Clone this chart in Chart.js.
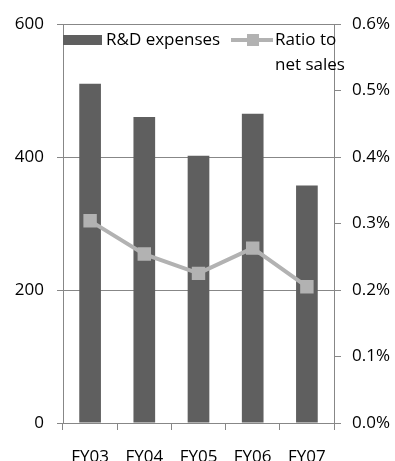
<!DOCTYPE html>
<html>
<head>
<meta charset="utf-8">
<script src="https://cdn.jsdelivr.net/npm/chart.js@4.4.0/dist/chart.umd.min.js"></script>
<style>
  html, body { margin: 0; padding: 0; background: #fff; overflow: hidden; }
  #wrap { position: relative; width: 395px; height: 480px; }
</style>
</head>
<body>
<div id="wrap"><canvas id="c" width="395" height="480"></canvas></div>
<script>
// Fiscal years and the two series
const categories = ['FY03', 'FY04', 'FY05', 'FY06', 'FY07'];
const rdExpenses = [510, 460, 402, 465, 357];          // left axis
const ratioToSales = [0.304, 0.254, 0.225, 0.263, 0.205]; // right axis, in %
const seriesLabels = ['R&D expenses', 'Ratio to net sales'];
const leftTicks = { min: 0, max: 600, step: 200 };
const rightTicks = { min: 0, max: 0.6, step: 0.1 };

const BAR = '#5f5f5f';
const LINE = '#b2b2b2';
const AXIS = '#878787';
const FONT = { family: '"Open Sans", sans-serif', size: 17 };

// Legend drawn in the top band of the plot, second label wrapped on two lines
const legendPlugin = {
  id: 'topLegend',
  afterDatasetsDraw(chart) {
    const ctx = chart.ctx;
    const area = chart.chartArea;
    const y = area.top + 16;
    ctx.save();
    ctx.font = `${FONT.size}px ${FONT.family}`;
    ctx.fillStyle = '#000';
    ctx.textBaseline = 'middle';
    ctx.textAlign = 'left';
    // bar entry
    ctx.fillStyle = BAR;
    ctx.fillRect(area.left, y - 5, 39, 10);
    ctx.fillStyle = '#000';
    ctx.fillText(seriesLabels[0], area.left + 43, y);
    // line entry
    const lx = 231;
    ctx.strokeStyle = LINE;
    ctx.lineWidth = 4;
    ctx.beginPath();
    ctx.moveTo(lx, y);
    ctx.lineTo(lx + 42, y);
    ctx.stroke();
    ctx.fillStyle = LINE;
    ctx.fillRect(lx + 16, y - 6, 12, 12);
    ctx.fillStyle = '#000';
    const words = seriesLabels[1].split(' ');
    ctx.fillText(words.slice(0, 2).join(' '), lx + 44, y);
    ctx.fillText(words.slice(2).join(' '), lx + 44, y + 25);
    ctx.restore();
  }
};

new Chart(document.getElementById('c'), {
  data: {
    labels: categories,
    datasets: [
      {
        type: 'line',
        label: seriesLabels[1],
        data: ratioToSales,
        yAxisID: 'y1',
        borderColor: LINE,
        borderWidth: 4,
        pointStyle: 'rect',
        pointRadius: 9.5,
        pointBackgroundColor: LINE,
        pointBorderColor: LINE,
        pointBorderWidth: 0,
        tension: 0,
        order: 0
      },
      {
        type: 'bar',
        label: seriesLabels[0],
        data: rdExpenses,
        yAxisID: 'y',
        backgroundColor: BAR,
        categoryPercentage: 1,
        barPercentage: 0.4,
        order: 1
      }
    ]
  },
  options: {
    responsive: false,
    animation: false,
    events: [],
    layout: { padding: { top: 24, left: 0, right: 0, bottom: 0 } },
    plugins: { legend: { display: false }, tooltip: { enabled: false } },
    scales: {
      x: {
        offset: true,
        grid: { offset: true, drawOnChartArea: false, tickLength: 7, color: AXIS },
        border: { display: true, color: AXIS },
        ticks: { font: FONT, color: '#000', padding: 16.5, maxRotation: 0 },
        afterFit(s) { s.height = 480 - 423; }
      },
      y: {
        position: 'left',
        min: leftTicks.min, max: leftTicks.max,
        grid: { color: AXIS, tickLength: 6 },
        border: { display: true, color: AXIS },
        ticks: { stepSize: leftTicks.step, font: FONT, color: '#000', padding: 13 },
        afterFit(s) { s.width = 63; }
      },
      y1: {
        position: 'right',
        min: rightTicks.min, max: rightTicks.max,
        grid: { drawOnChartArea: false, color: AXIS, tickLength: 7 },
        border: { display: true, color: AXIS },
        ticks: {
          stepSize: rightTicks.step, font: FONT, color: '#000', padding: 11,
          callback: v => v.toFixed(1) + '%'
        },
        afterFit(s) { s.width = 395 - 334; }
      }
    }
  },
  plugins: [legendPlugin]
});
</script>
</body>
</html>
